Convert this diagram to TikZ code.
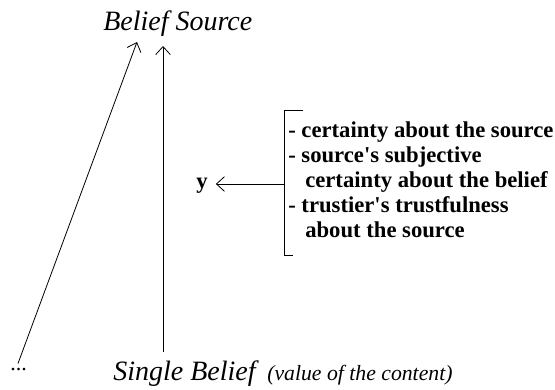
\documentclass[tikz,border=0pt]{standalone}
\usepackage{fontspec}
\setmainfont{Liberation Serif}
\usetikzlibrary{arrows.meta}

\begin{document}
\begin{tikzpicture}[x=0.75pt,y=-0.75pt,
  arr/.style={-{Straight Barb[length=6pt,width=11pt]},line width=0.6pt},
  big/.style={font=\fontsize{21}{25}\selectfont\itshape,inner sep=0pt,anchor=base west},
  lst/.style={font=\fontsize{17}{18.75}\selectfont\bfseries,inner sep=0pt,align=left,anchor=north west}]
\useasboundingbox (0,0) rectangle (555,389);
% belief source on top, single belief below
\node[big] (src) at (103,30) {Belief Source};
\node[big] (sgl) at (113,380) {Single Belief};
\node[font=\fontsize{16.3}{18}\selectfont\itshape,inner sep=0pt,anchor=base west] (val) at (267,380) {(value of the content)};
\node[font=\fontsize{16.5}{18}\selectfont,inner sep=0pt,anchor=base west] (dots) at (10,370) {...};
% the two arrows up to the source
\coordinate (tipA) at (137,42);
\coordinate (tipB) at (163,46);
\draw[arr] (dots.north -| 18,0) ++(0,-4) coordinate (footA) -- (tipA);
\draw[arr] (sgl.north -| tipB) ++(0,-8) coordinate (footB) -- (tipB);
% y and its components
\node[lst] (comp) at (288,122) {- certainty about the source\\
- source\textquotesingle s subjective\\
\hspace*{0.75em}certainty about the belief\\
- trustier\textquotesingle s trustfulness\\
\hspace*{0.75em}about the source};
\node[font=\fontsize{17}{18}\selectfont\bfseries,inner sep=0pt,anchor=base west] (y) at (196,188) {y};
\draw[line width=0.6pt] (303,110) -- (284,110) -- (284,255) -- (293,255);
\coordinate (brk) at (284,184);
\draw[arr,shorten >=6pt] (brk) -- (y.east |- brk);
\end{tikzpicture}
\end{document}
